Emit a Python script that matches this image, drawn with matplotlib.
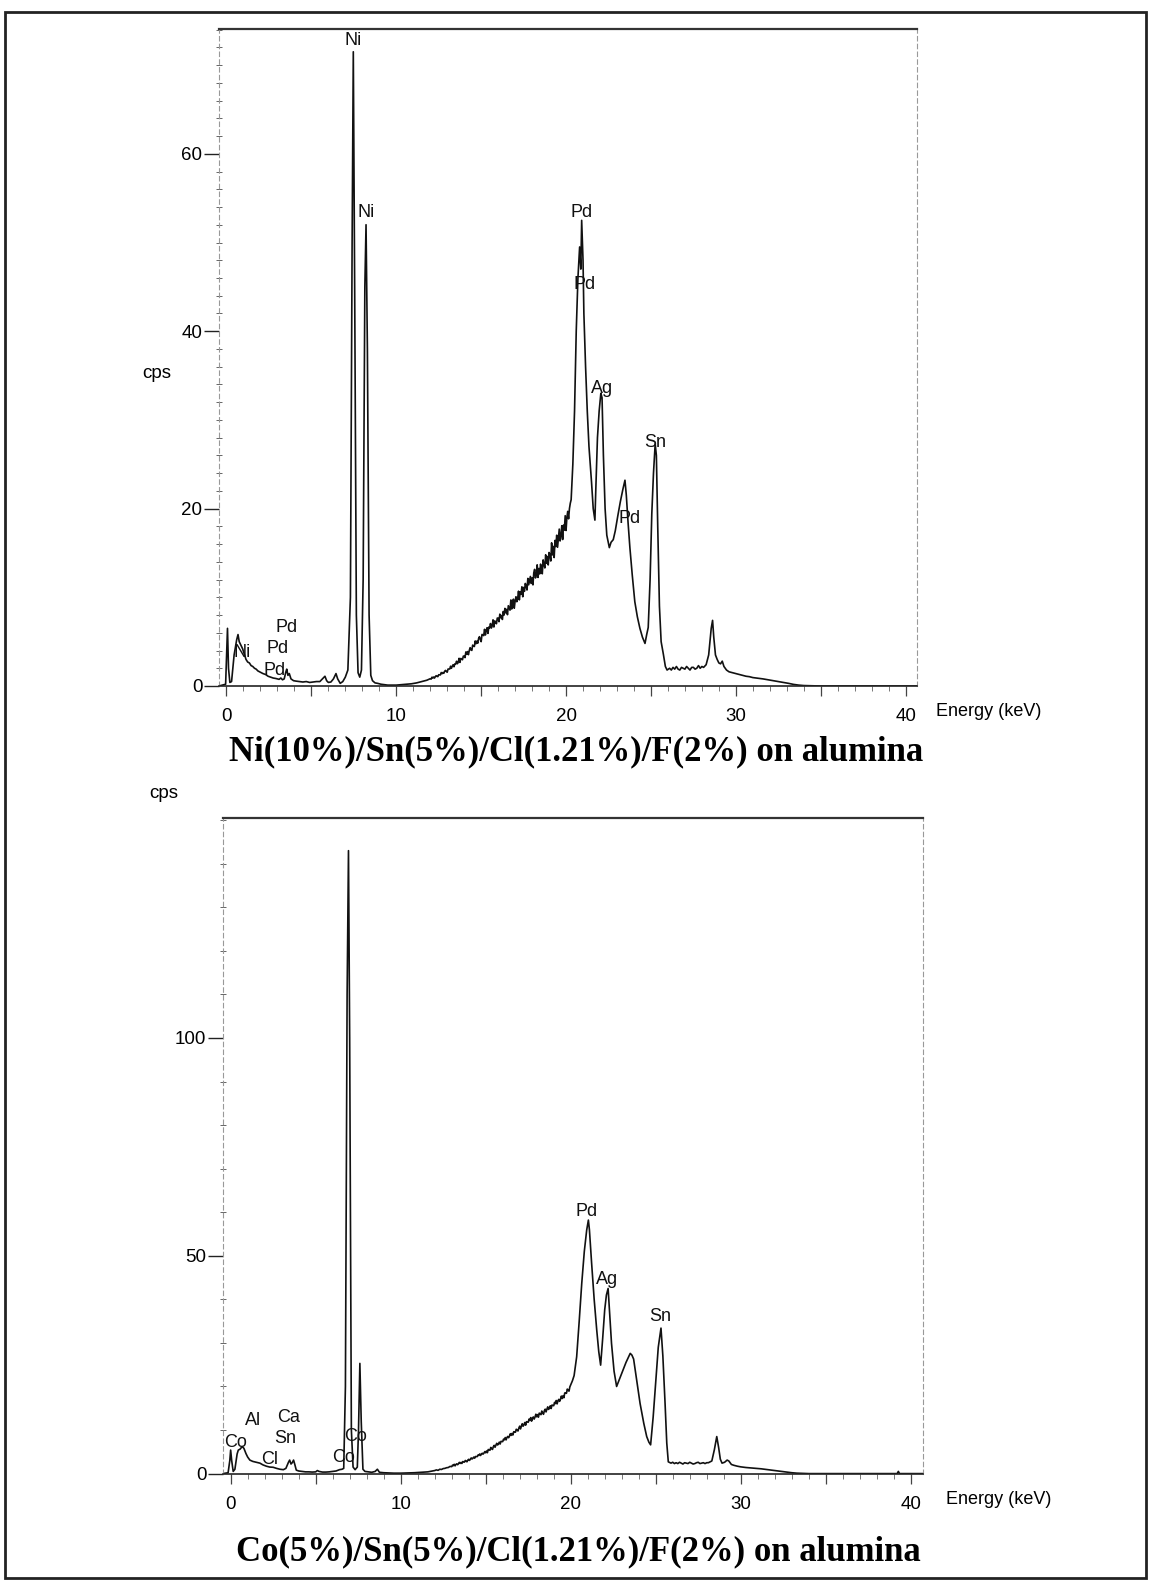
import matplotlib
matplotlib.use("Agg")
import matplotlib.pyplot as plt
from matplotlib.patches import Rectangle
from matplotlib.ticker import MultipleLocator, FuncFormatter

SANS = ['Liberation Sans Narrow', 'Liberation Sans', 'DejaVu Sans']
SERIF = ['Liberation Serif', 'DejaVu Serif']

# ---------------- data: Ni sample (top) ----------------
ni_energy = [-0.44, -0.05, 0.0, 0.06, 0.12, 0.2, 0.3, 0.45, 0.6, 0.68, 0.75, 0.85, 0.95, 1.05, 1.15, 1.25,
             1.35, 1.45, 1.55, 1.65, 1.75, 1.85, 1.95, 2.05, 2.15, 2.3, 2.45, 2.6, 2.75, 2.9, 3.0, 3.1,
             3.2, 3.3, 3.4, 3.5, 3.55, 3.62, 3.7, 3.8, 3.95, 4.1, 4.3, 4.5, 4.7, 4.9, 5.1, 5.3, 5.5, 5.7,
             5.8, 5.9, 6.0, 6.15, 6.3, 6.45, 6.55, 6.7, 6.85, 7.0, 7.15, 7.3, 7.4, 7.47, 7.55, 7.65, 7.75,
             7.85, 7.95, 8.05, 8.15, 8.22, 8.3, 8.4, 8.5, 8.6, 8.75, 8.9, 9.1, 9.3, 9.5, 9.7, 10.0, 10.3,
             10.6, 10.9, 11.2, 11.5, 11.8,
             12.0, 12.05, 12.1, 12.15, 12.2, 12.25, 12.3, 12.35, 12.4, 12.45, 12.5, 12.55, 12.6, 12.65,
             12.7, 12.75, 12.8, 12.85, 12.9, 12.95, 13.0, 13.05, 13.1, 13.15, 13.2, 13.25, 13.3, 13.35,
             13.4, 13.45, 13.5, 13.55, 13.6, 13.65, 13.7, 13.75, 13.8, 13.85, 13.9, 13.95,
             14.0, 14.05, 14.1, 14.15, 14.2, 14.25, 14.3, 14.35, 14.4, 14.45, 14.5, 14.55, 14.6, 14.65,
             14.7, 14.75, 14.8, 14.85, 14.9, 14.95, 15.0, 15.05, 15.1, 15.15, 15.2, 15.25, 15.3, 15.35,
             15.4, 15.45, 15.5, 15.55, 15.6, 15.65, 15.7, 15.75, 15.8, 15.85, 15.9, 15.95, 16.0, 16.05,
             16.1, 16.15, 16.2, 16.25, 16.3, 16.35, 16.4, 16.45, 16.5, 16.55, 16.6, 16.65, 16.7, 16.75,
             16.8, 16.85, 16.9, 16.95, 17.0, 17.05, 17.1, 17.15, 17.2, 17.25, 17.3, 17.35, 17.4, 17.45,
             17.5, 17.55, 17.6, 17.65, 17.7, 17.75, 17.8, 17.85, 17.9, 17.95, 18.0, 18.05, 18.1, 18.15,
             18.2, 18.25, 18.3, 18.35, 18.4, 18.45, 18.5, 18.55, 18.6, 18.65, 18.7, 18.75, 18.8, 18.85,
             18.9, 18.95, 19.0, 19.05, 19.1, 19.15, 19.2, 19.25, 19.3, 19.35, 19.4, 19.45, 19.5, 19.55,
             19.6, 19.65, 19.7, 19.75, 19.8, 19.85, 19.9, 19.95, 20.0, 20.05, 20.1, 20.15, 20.2, 20.25,
             20.3,
             20.4, 20.5, 20.6, 20.7, 20.8, 20.87, 20.92, 21.0, 21.05, 21.15, 21.25, 21.35, 21.5, 21.6, 21.7,
             21.75, 21.85, 21.95, 22.05, 22.12, 22.2, 22.3, 22.4, 22.55, 22.65, 22.78, 22.9, 23.05, 23.2,
             23.35, 23.47, 23.55, 23.65, 23.76, 23.9, 24.05, 24.2, 24.35, 24.5, 24.65, 24.75, 24.84, 24.95,
             25.05, 25.15, 25.25, 25.32, 25.4, 25.5, 25.6, 25.73, 25.85, 25.95, 26.1, 26.2, 26.3, 26.4,
             26.5, 26.6, 26.7, 26.8, 26.9, 27.0, 27.1, 27.2, 27.3, 27.4, 27.5, 27.6, 27.7, 27.8, 27.9, 28.0,
             28.1, 28.25, 28.4, 28.55, 28.63, 28.7, 28.8, 28.9, 29.0, 29.1,
             29.2, 29.3, 29.45, 29.6, 29.8, 30.0, 30.2, 30.4, 30.6, 30.8, 31.0, 31.3, 31.6, 31.9, 32.2, 32.5,
             32.8, 33.1, 33.4, 33.7, 34.0, 34.5, 35.0, 40.67]
ni_cps = [0.0, 0.2, 3.0, 6.5, 2.0, 0.4, 0.5, 3.5, 5.2, 5.8, 5.0, 4.6, 4.2, 3.6, 3.0, 2.7,
          2.6, 2.3, 2.2, 2.0, 1.9, 1.7, 1.6, 1.5, 1.4, 1.3, 1.1, 1.0, 0.9, 0.85, 0.8, 0.75,
          0.9, 0.7, 0.8, 1.6, 1.9, 1.2, 1.4, 0.8, 0.6, 0.55, 0.5, 0.45, 0.5, 0.4, 0.45, 0.5, 0.5, 0.9,
          1.1, 0.6, 0.4, 0.45, 0.8, 1.4, 0.8, 0.3, 0.5, 1.0, 1.8, 10.0, 50.0, 71.5, 45.0, 8.0, 1.5,
          1.0, 1.8, 12.0, 45.0, 52.0, 38.0, 8.0, 1.2, 0.6, 0.35, 0.3, 0.2, 0.15, 0.1, 0.1, 0.1, 0.15,
          0.2, 0.25, 0.35, 0.5, 0.65,
          0.82, 0.77, 0.99, 0.91, 1.01, 0.89, 1.05, 1.16, 1.08, 1.06, 1.27, 1.26, 1.25, 1.52,
          1.39, 1.52, 1.43, 1.66, 1.76, 1.64, 1.55, 1.91, 1.92, 1.92, 2.23, 2.0, 2.24, 2.4,
          2.17, 2.49, 2.47, 2.79, 2.51, 2.68, 3.12, 2.66, 3.1, 3.06, 2.96, 3.37,
          3.37, 3.2, 3.84, 3.59, 3.88, 3.53, 4.0, 4.32, 4.07, 4.01, 4.61, 4.51, 4.45, 5.08,
          4.77, 5.06, 4.82, 5.35, 5.56, 5.25, 5.0, 5.81, 5.77, 5.68, 6.39, 5.75, 6.26, 6.57,
          5.93, 6.64, 6.55, 7.04, 6.53, 6.77, 7.46, 6.65, 7.34, 7.23, 7.02, 7.66, 7.65, 7.25,
          8.1, 7.7, 7.95, 7.5, 8.4, 8.0, 8.75, 8.25, 8.64, 8.04, 9.05, 8.8, 8.55, 9.7,
          8.68, 9.41, 9.79, 8.77, 9.57, 10.06, 9.5, 9.85, 10.69, 9.71, 10.62, 10.34, 11.18, 10.06,
          11.11, 10.67, 11.56, 11.26, 10.82, 12.13, 11.41, 11.88, 12.35, 11.56, 12.19, 11.4, 12.77, 13.15,
          12.18, 12.56, 13.66, 12.24, 13.25, 12.64, 13.74, 13.15, 12.65, 14.22, 13.72, 13.31, 14.79, 13.84,
          14.6, 13.65, 15.05, 14.79, 14.09, 16.14, 14.78, 15.73, 14.48, 16.42, 15.72, 17.0, 15.64, 16.72,
          17.69, 16.35, 16.99, 18.07, 16.51, 18.14, 17.57, 19.2, 17.53, 19.0, 19.69, 18.85, 20.0, 20.6,
          21.0,
          25.0, 31.0, 40.0, 46.0, 49.5, 47.0, 52.5, 48.0, 42.0, 36.0, 31.0, 27.0, 23.0, 20.0, 18.7,
          22.0, 28.0, 31.0, 33.0, 32.5, 26.0, 20.0, 17.0, 15.6, 16.2, 16.5, 17.5, 19.2, 20.8,
          22.2, 23.2, 21.5, 18.5, 15.6, 12.5, 9.5, 7.8, 6.5, 5.5, 4.8, 5.8, 6.6, 12.0,
          19.4, 24.0, 27.3, 26.0, 18.0, 9.0, 5.0, 3.6, 2.2, 1.8, 2.0, 1.8, 2.1, 1.9,
          2.2, 1.9, 1.8, 2.1, 2.0, 1.9, 2.2, 2.0, 1.8, 2.1, 2.1, 1.9, 2.0, 2.3, 2.0, 2.2,
          2.1, 2.4, 3.5, 6.5, 7.4, 5.5, 3.5, 3.0, 2.6, 2.5,
          2.8, 2.2, 1.8, 1.6, 1.5, 1.4, 1.3, 1.2, 1.1, 1.05, 0.95, 0.88, 0.8, 0.7, 0.6, 0.5,
          0.4, 0.3, 0.18, 0.1, 0.05, 0.02, 0.0, 0.0]

ni_labels = ["Ni", "Ni", "Pd", "Pd", "Ag", "Sn", "Pd", "Pd", "Pd", "Pd", "Ni"]
ni_label_e = [7.45, 8.22, 20.92, 21.11, 22.1, 25.24, 23.76, 3.55, 3.02, 2.86, 0.95]
ni_label_cps = [72.8, 53.4, 53.4, 45.3, 33.5, 27.5, 18.9, 6.6, 4.2, 1.75, 3.8]

# ---------------- data: Co sample (bottom) ----------------
co_energy = [-0.45, -0.15, -0.05, 0.0, 0.06, 0.15, 0.25, 0.38, 0.45, 0.55, 0.68, 0.78, 0.9, 1.0, 1.13, 1.3,
             1.5, 1.72, 1.9, 2.1, 2.3, 2.5, 2.7, 2.9, 3.1, 3.25, 3.4, 3.47, 3.55, 3.62, 3.7, 3.78, 3.86,
             4.0, 4.2, 4.4, 4.6, 4.8, 5.0, 5.1, 5.2, 5.4, 5.6, 5.8, 6.0, 6.2, 6.4, 6.55, 6.65, 6.75, 6.85,
             6.93, 7.0, 7.1, 7.2, 7.32, 7.45, 7.52, 7.6, 7.68, 7.78, 7.9, 8.1, 8.3, 8.5, 8.63, 8.75, 9.0,
             9.3, 9.6, 10.0, 10.4, 10.8, 11.2, 11.6,
             12.0, 12.1, 12.2, 12.3, 12.4, 12.5, 12.6, 12.7, 12.8, 12.9,
             13.0, 13.05, 13.1, 13.15, 13.2, 13.25, 13.3, 13.35, 13.4, 13.45, 13.5, 13.55, 13.6, 13.65,
             13.7, 13.75, 13.8, 13.85, 13.9, 13.95, 14.0, 14.05, 14.1, 14.15, 14.2, 14.25, 14.3, 14.35,
             14.4, 14.45, 14.5, 14.55, 14.6, 14.65, 14.7, 14.75, 14.8, 14.85, 14.9, 14.95, 15.0, 15.05,
             15.1, 15.15, 15.2, 15.25, 15.3, 15.35, 15.4, 15.45, 15.5, 15.55, 15.6, 15.65, 15.7, 15.75,
             15.8, 15.85, 15.9, 15.95, 16.0, 16.05, 16.1, 16.15, 16.2, 16.25, 16.3, 16.35, 16.4, 16.45,
             16.5, 16.55, 16.6, 16.65, 16.7, 16.75, 16.8, 16.85, 16.9, 16.95, 17.0, 17.05, 17.1, 17.15,
             17.2, 17.25, 17.3, 17.35, 17.4, 17.45, 17.5, 17.55, 17.6, 17.65, 17.7, 17.75, 17.8, 17.85,
             17.9, 17.95, 18.0, 18.05, 18.1, 18.15, 18.2, 18.25, 18.3, 18.35, 18.4, 18.45, 18.5, 18.55,
             18.6, 18.65, 18.7, 18.75, 18.8, 18.85, 18.9, 18.95, 19.0, 19.05, 19.1, 19.15, 19.2, 19.25,
             19.3, 19.35, 19.4, 19.45, 19.5, 19.55, 19.6, 19.65, 19.7, 19.75, 19.8, 19.85, 19.9, 19.95,
             20.0, 20.05, 20.1, 20.2,
             20.35, 20.5, 20.65, 20.8, 20.94, 21.04, 21.1, 21.23, 21.38, 21.53, 21.65, 21.76, 21.88, 22.0,
             22.1, 22.2, 22.3, 22.4, 22.55, 22.7, 22.85, 23.0, 23.25, 23.5, 23.6, 23.7, 23.9, 24.08, 24.3,
             24.47, 24.6, 24.7, 24.85, 25.02, 25.15, 25.31, 25.42, 25.55, 25.65, 25.74, 25.9, 26.0, 26.1,
             26.2, 26.3, 26.4, 26.5, 26.6, 26.7, 26.8, 26.9, 27.0, 27.1, 27.2, 27.3, 27.4, 27.5, 27.6, 27.7,
             27.8, 27.9, 28.0, 28.1, 28.3, 28.45, 28.59, 28.7, 28.8, 28.9,
             29.05, 29.2, 29.3, 29.45, 29.6, 29.8, 30.0, 30.3, 30.6, 30.9, 31.2, 31.5, 31.8, 32.1, 32.4,
             32.7, 33.0, 33.3, 33.6, 34.0, 39.2, 39.27, 39.34, 40.72]
co_cps = [0.0, 0.2, 3.0, 5.4, 3.0, 0.5, 1.0, 4.5, 5.4, 5.6, 6.2, 5.8, 4.6, 3.8, 3.1, 2.8,
          2.6, 2.4, 2.0, 1.7, 1.5, 1.45, 1.2, 1.0, 0.9, 1.2, 2.6, 3.1, 2.2, 2.5, 3.1, 2.0, 0.8,
          0.6, 0.5, 0.4, 0.4, 0.35, 0.4, 0.7, 0.5, 0.35, 0.35, 0.4, 0.5, 0.6, 0.9, 1.0, 1.2, 20.0, 110.0,
          143.0, 100.0, 10.0, 1.5, 0.9, 1.5, 10.0, 25.3, 12.0, 1.0, 0.5, 0.4, 0.3, 0.5, 1.0, 0.3, 0.2,
          0.15, 0.1, 0.1, 0.15, 0.2, 0.3, 0.4,
          0.7, 0.85, 0.75, 1.0, 0.95, 1.15, 1.2, 1.35, 1.4, 1.65,
          1.6, 1.95, 1.82, 2.13, 1.78, 2.1, 2.25, 2.04, 2.26, 2.58, 2.33, 2.57, 2.32, 2.76,
          2.71, 2.63, 3.02, 2.84, 2.71, 3.11, 3.28, 3.02, 3.33, 3.6, 3.36, 3.53, 3.79, 3.53,
          3.92, 3.91, 3.9, 4.27, 4.16, 4.5, 4.16, 4.5, 4.67, 4.48, 4.72, 5.06, 4.78, 5.19,
          4.8, 5.53, 5.46, 5.35, 6.0, 5.73, 5.54, 6.19, 6.48, 6.05, 6.54, 6.95, 6.56, 6.81,
          7.22, 6.79, 7.4, 7.37, 7.34, 7.92, 7.74, 8.28, 7.74, 8.28, 8.54, 8.24, 8.62, 9.16,
          8.78, 9.22, 8.86, 9.62, 9.58, 9.5, 10.18, 9.94, 9.78, 10.46, 10.89, 10.26, 10.91, 11.45,
          10.88, 11.2, 11.73, 11.11, 11.92, 11.85, 11.78, 12.51, 12.19, 12.86, 12.04, 12.71, 13.0, 12.51,
          12.96, 13.63, 13.04, 13.54, 12.95, 13.89, 13.74, 13.53, 14.36, 13.93, 13.61, 14.45, 14.79, 14.16,
          14.79, 15.32, 14.74, 15.05, 15.57, 14.94, 15.74, 15.66, 15.58, 16.35, 16.07, 16.78, 16.0, 16.71,
          17.04, 16.59, 17.08, 17.79, 17.24, 17.88, 17.42, 18.51, 18.5, 18.43, 19.4, 19.11, 18.93, 19.91,
          20.39, 20.9, 21.3, 22.5,
          26.8, 35.0, 43.7, 51.0, 55.9, 58.2, 56.0, 48.3, 40.0, 33.0, 28.0, 24.9, 31.0, 37.6,
          41.0, 42.5, 36.0, 29.9, 23.5, 20.0, 21.5, 23.0, 25.5, 27.6, 27.2, 26.3, 21.0, 16.1, 11.5,
          8.5, 7.2, 6.6, 13.0, 22.2, 29.0, 33.4, 27.0, 16.1, 7.0, 2.7, 2.4, 2.6, 2.3,
          2.5, 2.3, 2.6, 2.4, 2.2, 2.5, 2.4, 2.3, 2.6, 2.4, 2.2, 2.3, 2.5, 2.6, 2.3, 2.4,
          2.5, 2.3, 2.5, 2.5, 2.9, 5.5, 8.5, 6.0, 3.3, 2.4,
          2.6, 3.1, 2.9, 2.1, 1.9, 1.7, 1.55, 1.4, 1.3, 1.2, 1.1, 0.95, 0.8, 0.65, 0.5,
          0.35, 0.2, 0.1, 0.05, 0.0, 0.0, 0.5, 0.0, 0.0]

co_labels = ["Co", "Al", "Ca", "Sn", "Cl", "Co", "Co", "Pd", "Ag", "Sn"]
co_label_e = [0.31, 1.33, 3.39, 3.19, 2.31, 6.62, 7.37, 20.94, 22.15, 25.25]
co_label_cps = [7.1, 12.1, 12.9, 8.1, 3.3, 3.7, 8.5, 60.1, 44.6, 36.0]

x_major = [0, 10, 20, 30, 40]
ni_y_major = [0, 20, 40, 60]
co_y_major = [0, 50, 100]

W, H = 1149, 1581
fig = plt.figure(figsize=(W / 100, H / 100), dpi=100)
fig.patch.set_facecolor('white')


def fx(px):
    return px / W


def fy(py):
    return 1 - py / H


def style_axes(ax, xlim, ylim, ymajor, yminor):
    ax.set_xlim(*xlim)
    ax.set_ylim(*ylim)
    ax.spines['top'].set_color('#333333')
    ax.spines['top'].set_linewidth(1.6)
    ax.spines['bottom'].set_color('#222222')
    ax.spines['bottom'].set_linewidth(1.2)
    for s in ('left', 'right'):
        ax.spines[s].set_color('#999999')
        ax.spines[s].set_linewidth(0.8)
        ax.spines[s].set_linestyle((0, (4, 3)))
    ax.set_xticks([v for v in range(0, 41, 5)])
    ax.xaxis.set_major_formatter(FuncFormatter(lambda v, p: f"{int(v)}" if int(v) in x_major else ""))
    ax.xaxis.set_minor_locator(MultipleLocator(1))
    ax.set_yticks(ymajor)
    ax.yaxis.set_minor_locator(MultipleLocator(yminor))
    ax.tick_params(axis='x', which='major', direction='out', length=7, width=0.9, color='#444444',
                   pad=9, labelsize=13.5)
    ax.tick_params(axis='x', which='minor', direction='out', length=3.5, width=0.7, color='#777777')
    ax.tick_params(axis='y', which='major', direction='out', length=11, width=1.0, color='#222222',
                   pad=1, labelsize=13.5)
    ax.tick_params(axis='y', which='minor', direction='inout', length=4, width=0.7, color='#666666')
    for lab in ax.get_xticklabels() + ax.get_yticklabels():
        lab.set_family(SANS)
    ax.set_facecolor('none')


# ---------------- top panel ----------------
ax1 = fig.add_axes([fx(219), fy(686), fx(917) - fx(219), fy(29) - fy(686)])
ax1.plot(ni_energy, ni_cps, color='#111111', lw=1.2)
style_axes(ax1, (-0.44, 40.67), (0, 74.07), ni_y_major, 2)
for t, e, c in zip(ni_labels, ni_label_e, ni_label_cps):
    ax1.text(e, c, t, ha='center', va='center', fontsize=13, family=SANS, color='#111111')

fig.text(fx(157), fy(373), 'cps', ha='center', va='center', fontsize=13.5, family=SANS)
fig.text(fx(936), fy(711), 'Energy (keV)', ha='left', va='center', fontsize=13, family=SANS)
fig.text(fx(576), fy(752), 'Ni(10%)/Sn(5%)/Cl(1.21%)/F(2%) on alumina', ha='center', va='center',
         fontsize=25, fontweight='bold', family=SERIF)

# ---------------- bottom panel ----------------
ax2 = fig.add_axes([fx(223), fy(1473.6), fx(923) - fx(223), fy(818) - fy(1473.6)])
ax2.plot(co_energy, co_cps, color='#111111', lw=1.2)
style_axes(ax2, (-0.45, 40.72), (0, 150.5), co_y_major, 10)
for t, e, c in zip(co_labels, co_label_e, co_label_cps):
    ax2.text(e, c, t, ha='center', va='center', fontsize=13, family=SANS, color='#111111')

fig.text(fx(164), fy(794), 'cps', ha='center', va='center', fontsize=13.5, family=SANS)
fig.text(fx(946), fy(1499), 'Energy (keV)', ha='left', va='center', fontsize=13, family=SANS)
fig.text(fx(578), fy(1552), 'Co(5%)/Sn(5%)/Cl(1.21%)/F(2%) on alumina', ha='center', va='center',
         fontsize=25, fontweight='bold', family=SERIF)

# outer frame
fig.add_artist(Rectangle((fx(5), fy(1578)), fx(1146) - fx(5), fy(12) - fy(1578),
                         transform=fig.transFigure, fill=False, edgecolor='#222222', lw=2))

fig.savefig('out.png', dpi=100, facecolor='white')
